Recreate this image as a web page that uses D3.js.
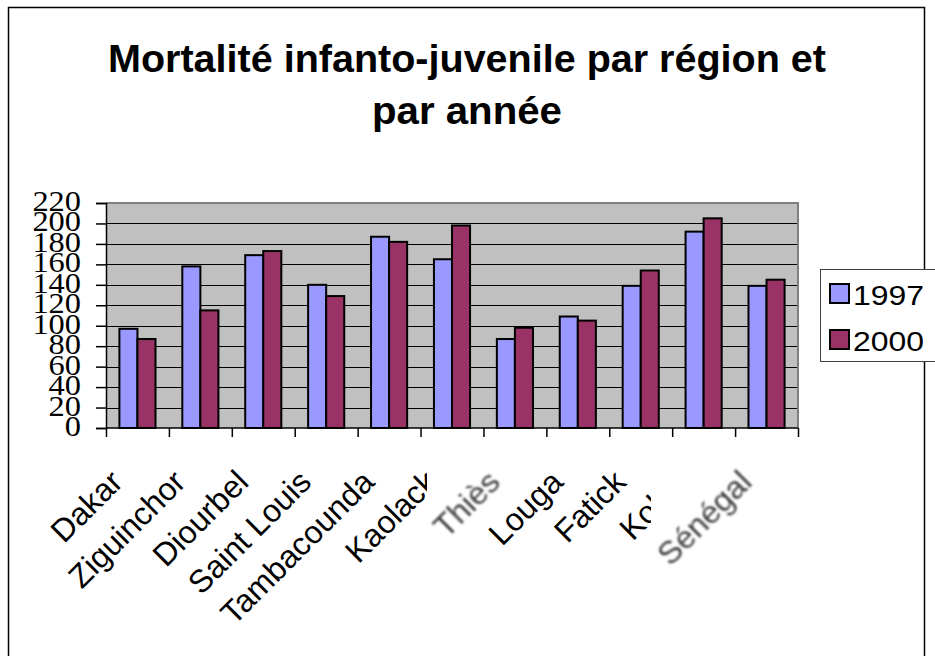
<!DOCTYPE html>
<html>
<head>
<meta charset="utf-8">
<script src="https://cdn.jsdelivr.net/npm/d3@7"></script>
<style>
  body { margin: 0; background: #fff; }
  svg { display: block; }
</style>
</head>
<body>
<svg id="chart" width="935" height="656"></svg>
<script>
var regions = ["Dakar", "Ziguinchor", "Diourbel", "Saint Louis", "Tambacounda", "Kaolack",
               "Thiès", "Louga", "Fatick", "Kolda", "Sénégal"];
var years = ["1997", "2000"];
var v1997 = [97, 158, 169, 140, 187, 165, 87, 109, 139, 192, 139];
var v2000 = [87, 115, 173, 129, 182, 198, 98, 105, 154, 205, 145];
var yTicks = [0, 20, 40, 60, 80, 100, 120, 140, 160, 180, 200, 220];
var colors = ["#9999ff", "#993366"];

var svg = d3.select("#chart");

// frame around the chart (runs off the bottom)
svg.append("path")
  .attr("d", "M8.5,700 V7.5 H924.5 V700")
  .attr("fill", "none").attr("stroke", "#000").attr("stroke-width", 1.5);

// title
var title = svg.append("g")
  .attr("font-family", "Arial, 'Liberation Sans', sans-serif")
  .attr("font-weight", "bold").attr("font-size", 39)
  .attr("text-anchor", "middle");
title.append("text").attr("x", 467).attr("y", 72)
  .attr("textLength", 718).attr("lengthAdjust", "spacingAndGlyphs")
  .text("Mortalité infanto-juvenile par région et");
title.append("text").attr("x", 467).attr("y", 124)
  .attr("textLength", 190).attr("lengthAdjust", "spacingAndGlyphs")
  .text("par année");

var x0 = d3.scaleBand().domain(regions).range([106, 798]);
var x1 = d3.scaleBand().domain(years).range([13.4, x0.bandwidth() - 13.4]);
var y = d3.scaleLinear().domain([0, 220]).range([428, 203]);

// plot area
svg.append("rect")
  .attr("x", 106).attr("y", y(220))
  .attr("width", 692).attr("height", y(0) - y(220))
  .attr("fill", "#c0c0c0");

// gridlines
svg.append("g").selectAll("line")
  .data(yTicks.filter(function(d) { return d > 0 && d < 220; }))
  .enter().append("line")
  .attr("x1", 106).attr("x2", 798)
  .attr("y1", function(d) { return Math.round(y(d)) + 0.5; })
  .attr("y2", function(d) { return Math.round(y(d)) + 0.5; })
  .attr("stroke", "#000").attr("stroke-width", 1);

// gray border top/right
svg.append("path")
  .attr("d", "M106," + y(220) + " H798 V" + y(0))
  .attr("fill", "none").attr("stroke", "#808080").attr("stroke-width", 2);

// bars
var groups = svg.append("g").selectAll("g")
  .data(regions).enter().append("g")
  .attr("transform", function(d) { return "translate(" + x0(d) + ",0)"; });

groups.selectAll("rect")
  .data(function(d, i) { return [v1997[i], v2000[i]]; })
  .enter().append("rect")
  .attr("x", function(d, j) { return x1(years[j]); })
  .attr("y", function(d) { return y(d); })
  .attr("width", x1.bandwidth())
  .attr("height", function(d) { return y(0) - y(d); })
  .attr("fill", function(d, j) { return colors[j]; })
  .attr("stroke", "#000").attr("stroke-width", 2);

// y axis
var yAxis = d3.axisLeft(y).tickValues(yTicks).tickSize(10).tickFormat("");
svg.append("g").attr("transform", "translate(106,0)").call(yAxis)
  .call(function(g) { g.selectAll("line,path").attr("stroke", "#000").attr("stroke-width", 1.5); });

svg.append("g").selectAll("text")
  .data(yTicks).enter().append("text")
  .attr("transform", function(d) { return "translate(81," + (y(d) + 8) + ") scale(1.08,1)"; })
  .attr("text-anchor", "end")
  .attr("font-family", "'Times New Roman', 'Liberation Serif', serif")
  .attr("font-size", 30)
  .text(function(d) { return d; });

// x axis with ticks at band edges
var xAxis = d3.axisBottom(d3.scaleLinear().domain([0, regions.length]).range([106, 798]))
  .ticks(regions.length).tickSize(9).tickFormat("");
svg.append("g").attr("transform", "translate(0," + y(0) + ")").call(xAxis)
  .call(function(g) {
    g.select(".domain").attr("d", "M106,0H798");
    g.selectAll("line,path").attr("stroke", "#000").attr("stroke-width", 1.5);
  });

// x labels
var defs = svg.append("defs");
defs.append("filter").attr("id", "blur")
  .append("feGaussianBlur").attr("stdDeviation", 0.9);
defs.append("clipPath").attr("id", "clipKaolack")
  .append("rect").attr("x", 0).attr("y", 430).attr("width", 427).attr("height", 230);
defs.append("clipPath").attr("id", "clipKolda")
  .append("rect").attr("x", 0).attr("y", 430).attr("width", 651).attr("height", 230);

var clipped = { "Kaolack": "url(#clipKaolack)", "Kolda": "url(#clipKolda)" };
var blurred = { "Thiès": true, "Sénégal": true };

svg.append("g").selectAll("g")
  .data(regions).enter().append("g")
  .attr("clip-path", function(d) { return clipped[d] || null; })
  .append("text")
  .attr("transform", function(d) {
    return "translate(" + (x0(d) + x0.bandwidth() / 2 - 13) + "," + 484 + ") rotate(-45)";
  })
  .attr("text-anchor", "end")
  .attr("font-family", "Arial, 'Liberation Sans', sans-serif")
  .attr("font-size", 32)
  .attr("fill", function(d) { return blurred[d] ? "#3a3a3a" : "#000"; })
  .attr("filter", function(d) { return blurred[d] ? "url(#blur)" : null; })
  .text(function(d) { return d; });

// legend
var legend = svg.append("g");
legend.append("rect")
  .attr("x", 820.5).attr("y", 269.5).attr("width", 140).attr("height", 92)
  .attr("fill", "#fff").attr("stroke", "#404040").attr("stroke-width", 1);
var items = legend.selectAll("g.item")
  .data(years).enter().append("g").attr("class", "item")
  .attr("transform", function(d, i) { return "translate(0," + (i * 46) + ")"; });
items.append("rect")
  .attr("x", 830).attr("y", 284).attr("width", 19).attr("height", 19)
  .attr("fill", function(d, i) { return colors[i]; })
  .attr("stroke", "#000").attr("stroke-width", 2);
items.append("text")
  .attr("transform", "translate(853,305) scale(1.14,1)")
  .attr("font-family", "Arial, 'Liberation Sans', sans-serif")
  .attr("font-size", 28)
  .text(function(d) { return d; });
</script>
</body>
</html>
